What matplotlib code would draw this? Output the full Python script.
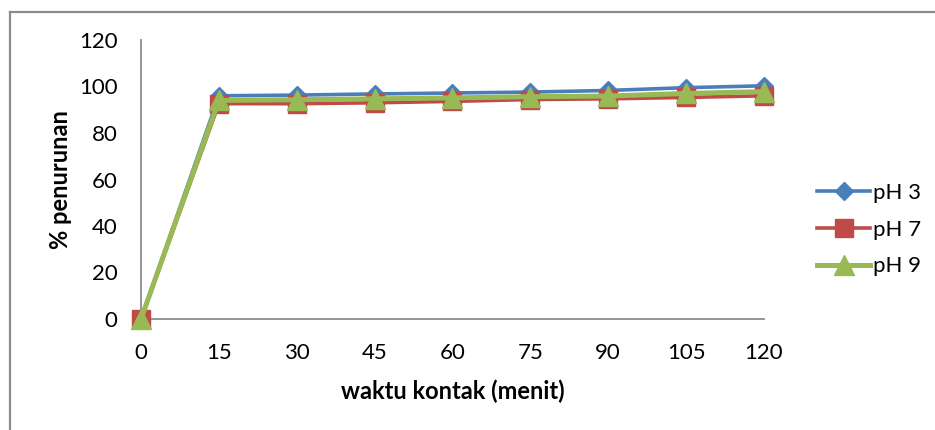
import matplotlib
matplotlib.use("Agg")
import matplotlib.pyplot as plt
from matplotlib.lines import Line2D

waktu = [0, 15, 30, 45, 60, 75, 90, 105, 120]
ph3 = [0, 96.0, 96.3, 96.8, 97.2, 97.6, 98.3, 99.5, 100.3]
ph7 = [0, 92.6, 92.6, 93.0, 93.6, 94.4, 94.7, 95.3, 96.0]
ph9 = [0, 94.0, 94.3, 94.7, 95.1, 95.6, 95.9, 97.0, 97.8]
series_labels = ["pH 3", "pH 7", "pH 9"]
yticks = [0, 20, 40, 60, 80, 100, 120]

plt.rcParams['font.family'] = ['Lato', 'DejaVu Sans']

W, H = 935, 430
fig = plt.figure(figsize=(W / 100, H / 100), dpi=100)
# outer chart border (left and top edges visible)
fig.add_artist(Line2D([10 / W, 10 / W], [0, 1 - 12 / H], transform=fig.transFigure,
                      color='#8c8c8c', lw=1.6))
fig.add_artist(Line2D([10 / W, 1], [1 - 12 / H, 1 - 12 / H], transform=fig.transFigure,
                      color='#8c8c8c', lw=1.6))

ax = fig.add_axes([141 / W, 1 - 319 / H, 623 / W, 279 / H])

ax.plot(waktu, ph3, color='#4A7EBB', lw=2.6, marker='D', ms=9, label=series_labels[0], zorder=3, clip_on=False)
ax.plot(waktu, ph7, color='#BE4B48', lw=2.6, marker='s', ms=13, label=series_labels[1], zorder=4, clip_on=False)
ax.plot(waktu, ph9, color='#98B954', lw=3.6, marker='^', ms=15, label=series_labels[2], zorder=5, clip_on=False)

ax.set_xlim(0, 120)
ax.set_ylim(0, 120)
ax.set_xticks(waktu)
ax.set_xticklabels([str(v) for v in waktu])
ax.set_yticks(yticks)
for s in ['top', 'right']:
    ax.spines[s].set_visible(False)
for s in ['left', 'bottom']:
    ax.spines[s].set_color('#8c8c8c')
    ax.spines[s].set_linewidth(1.3)
ax.tick_params(length=0, labelsize=16)
ax.tick_params(axis='x', pad=17)
ax.tick_params(axis='y', pad=17)
ax.set_xlabel('waktu kontak (menit)', fontsize=17, fontweight='bold', labelpad=12)
ax.set_ylabel('% penurunan', fontsize=17, fontweight='bold', labelpad=5)

leg = ax.legend(loc='center left', bbox_to_anchor=(1.085, 0.32), frameon=False, fontsize=16,
                handlelength=2.4, handletextpad=0.1, labelspacing=0.75, borderpad=0, borderaxespad=0)

fig.savefig('out.png', dpi=100)
